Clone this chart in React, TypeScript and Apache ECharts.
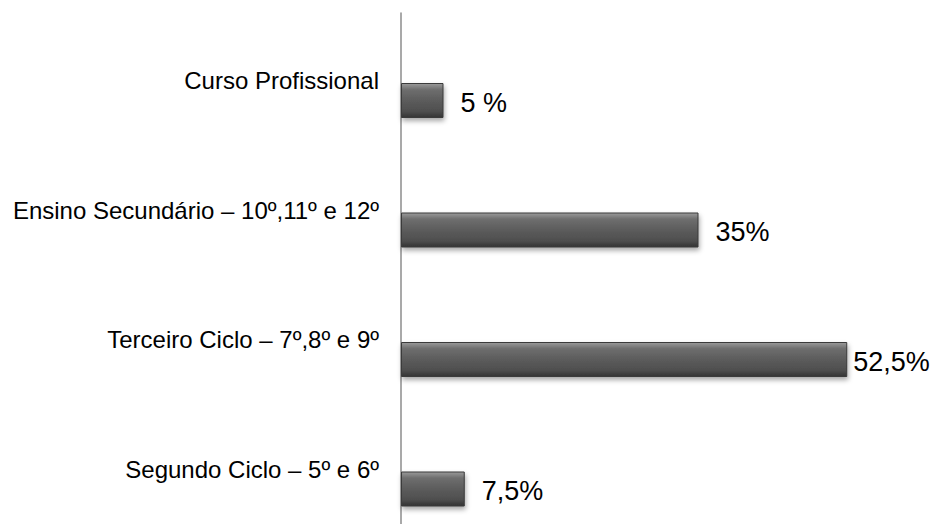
import React, { useEffect, useRef } from "react";
import * as echarts from "echarts";

const categories = [
  "Curso Profissional",
  "Ensino Secundário – 10º,11º e 12º",
  "Terceiro Ciclo – 7º,8º e 9º",
  "Segundo Ciclo – 5º e 6º",
];
const values = [5, 35, 52.5, 7.5];
const valueLabels = ["5 %", "35%", "52,5%", "7,5%"];

export default function App() {
  const ref = useRef<HTMLDivElement>(null);
  useEffect(() => {
    document.body.style.margin = "0";
    if (!ref.current) return;
    const chart = echarts.init(ref.current, undefined, { renderer: "svg" });
    const font = "'Liberation Sans', Arial, sans-serif";
    const barColor = new echarts.graphic.LinearGradient(0, 0, 0, 1, [
      { offset: 0, color: "#9a9a9a" },
      { offset: 0.18, color: "#6e6e6e" },
      { offset: 0.5, color: "#5c5c5c" },
      { offset: 0.82, color: "#4e4e4e" },
      { offset: 1, color: "#333333" },
    ]);
    chart.setOption({
      animation: false,
      backgroundColor: "#ffffff",
      grid: [
        { left: 401, width: 510, top: 35.75, height: 518, containLabel: false, outerBoundsMode: "none" },
        { left: 401, width: 510, top: 13, height: 511, containLabel: false, outerBoundsMode: "none" },
      ],
      xAxis: [
        { type: "value", gridIndex: 0, min: 0, max: 60, show: false },
        { type: "value", gridIndex: 1, min: 0, max: 60, show: false },
      ],
      yAxis: [
        {
          type: "category",
          gridIndex: 0,
          data: categories,
          inverse: true,
          axisLine: { show: false },
          axisTick: { show: false },
          splitLine: { show: false },
          axisLabel: {
            color: "#000000",
            fontFamily: font,
            fontSize: 24,
            margin: 22,
            align: "right",
            verticalAlign: "bottom",
            lineHeight: 40,
          },
        },
        {
          type: "value",
          gridIndex: 1,
          min: 0,
          max: 1,
          axisLine: { show: true, lineStyle: { color: "#8c8c8c", width: 1.5 } },
          axisTick: { show: false },
          axisLabel: { show: false },
          splitLine: { show: false },
        },
      ],
      series: [
        {
          type: "bar",
          xAxisIndex: 0,
          yAxisIndex: 0,
          barWidth: 35,
          data: values.map((v, i) => ({
            value: v,
            label: {
              distance: v > 50 ? 6 : 17,
              formatter: valueLabels[i],
            },
          })),
          itemStyle: {
            color: barColor,
            borderColor: "#3a3a3a",
            borderWidth: 1,
            shadowColor: "rgba(0,0,0,0.35)",
            shadowBlur: 5,
            shadowOffsetY: 3,
            shadowOffsetX: 1,
          },
          label: {
            show: true,
            position: "right",
            color: "#000000",
            fontFamily: font,
            fontSize: 27,
            offset: [0, 2],
          },
        },
      ],
    });
    return () => chart.dispose();
  }, []);
  return <div ref={ref} style={{ width: 936, height: 524 }} />;
}
